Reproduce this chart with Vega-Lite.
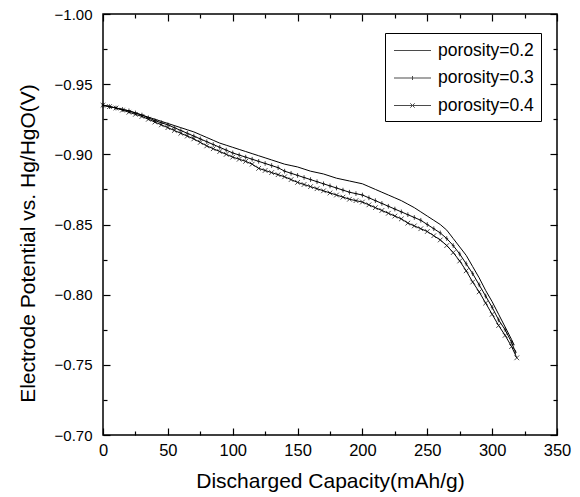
{
  "$schema": "https://vega.github.io/schema/vega-lite/v6.json",
  "width": 454,
  "height": 421,
  "autosize": {"type": "none"},
  "padding": {"left": 103, "top": 14, "right": 23, "bottom": 62},
  "background": "white",
  "config": {
    "view": {"stroke": "black", "strokeWidth": 1.5},
    "font": "Liberation Sans",
    "axis": {"zindex": 1, "domain": false, "grid": false, "ticks": true, "tickColor": "#000000", "tickOpacity": 1, "tickWidth": 1.2, "labelColor": "black", "titleColor": "black", "labelFont": "Liberation Sans", "titleFont": "Liberation Sans", "titleFontWeight": "normal"}
  },
  "datasets": {
    "curves": [
      {"c":0,"v":-0.935,"s":"0.2"},{"c":5,"v":-0.934,"s":"0.2"},{"c":10,"v":-0.933,"s":"0.2"},{"c":15,"v":-0.932,"s":"0.2"},{"c":20,"v":-0.931,"s":"0.2"},{"c":25,"v":-0.9295,"s":"0.2"},{"c":30,"v":-0.928,"s":"0.2"},{"c":35,"v":-0.9265,"s":"0.2"},{"c":40,"v":-0.925,"s":"0.2"},{"c":45,"v":-0.9235,"s":"0.2"},{"c":50,"v":-0.922,"s":"0.2"},{"c":55,"v":-0.9205,"s":"0.2"},{"c":60,"v":-0.919,"s":"0.2"},{"c":65,"v":-0.9175,"s":"0.2"},{"c":70,"v":-0.916,"s":"0.2"},{"c":75,"v":-0.914,"s":"0.2"},{"c":80,"v":-0.912,"s":"0.2"},{"c":85,"v":-0.91,"s":"0.2"},{"c":90,"v":-0.908,"s":"0.2"},{"c":95,"v":-0.9065,"s":"0.2"},{"c":100,"v":-0.905,"s":"0.2"},{"c":105,"v":-0.9035,"s":"0.2"},{"c":110,"v":-0.902,"s":"0.2"},{"c":115,"v":-0.9005,"s":"0.2"},{"c":120,"v":-0.899,"s":"0.2"},{"c":125,"v":-0.8975,"s":"0.2"},{"c":130,"v":-0.896,"s":"0.2"},{"c":135,"v":-0.8945,"s":"0.2"},{"c":140,"v":-0.893,"s":"0.2"},{"c":145,"v":-0.892,"s":"0.2"},{"c":150,"v":-0.891,"s":"0.2"},{"c":155,"v":-0.8895,"s":"0.2"},{"c":160,"v":-0.888,"s":"0.2"},{"c":165,"v":-0.887,"s":"0.2"},{"c":170,"v":-0.886,"s":"0.2"},{"c":175,"v":-0.8845,"s":"0.2"},{"c":180,"v":-0.883,"s":"0.2"},{"c":185,"v":-0.882,"s":"0.2"},{"c":190,"v":-0.881,"s":"0.2"},{"c":195,"v":-0.88,"s":"0.2"},{"c":200,"v":-0.879,"s":"0.2"},{"c":205,"v":-0.877,"s":"0.2"},{"c":210,"v":-0.875,"s":"0.2"},{"c":215,"v":-0.873,"s":"0.2"},{"c":220,"v":-0.871,"s":"0.2"},{"c":225,"v":-0.869,"s":"0.2"},{"c":230,"v":-0.867,"s":"0.2"},{"c":235,"v":-0.8645,"s":"0.2"},{"c":240,"v":-0.862,"s":"0.2"},{"c":245,"v":-0.859,"s":"0.2"},{"c":250,"v":-0.856,"s":"0.2"},{"c":255,"v":-0.853,"s":"0.2"},{"c":260,"v":-0.85,"s":"0.2"},{"c":265,"v":-0.846,"s":"0.2"},{"c":270,"v":-0.84,"s":"0.2"},{"c":275,"v":-0.834,"s":"0.2"},{"c":280,"v":-0.828,"s":"0.2"},{"c":285,"v":-0.82,"s":"0.2"},{"c":290,"v":-0.812,"s":"0.2"},{"c":295,"v":-0.803,"s":"0.2"},{"c":300,"v":-0.795,"s":"0.2"},{"c":305,"v":-0.786,"s":"0.2"},{"c":310,"v":-0.777,"s":"0.2"},{"c":315,"v":-0.768,"s":"0.2"},{"c":317,"v":-0.764,"s":"0.2"},
      {"c":0,"v":-0.935,"s":"0.3"},{"c":5,"v":-0.934,"s":"0.3"},{"c":10,"v":-0.933,"s":"0.3"},{"c":15,"v":-0.932,"s":"0.3"},{"c":20,"v":-0.931,"s":"0.3"},{"c":25,"v":-0.9295,"s":"0.3"},{"c":30,"v":-0.928,"s":"0.3"},{"c":35,"v":-0.926,"s":"0.3"},{"c":40,"v":-0.924,"s":"0.3"},{"c":45,"v":-0.9225,"s":"0.3"},{"c":50,"v":-0.921,"s":"0.3"},{"c":55,"v":-0.919,"s":"0.3"},{"c":60,"v":-0.917,"s":"0.3"},{"c":65,"v":-0.915,"s":"0.3"},{"c":70,"v":-0.913,"s":"0.3"},{"c":75,"v":-0.911,"s":"0.3"},{"c":80,"v":-0.909,"s":"0.3"},{"c":85,"v":-0.907,"s":"0.3"},{"c":90,"v":-0.905,"s":"0.3"},{"c":95,"v":-0.903,"s":"0.3"},{"c":100,"v":-0.901,"s":"0.3"},{"c":105,"v":-0.8995,"s":"0.3"},{"c":110,"v":-0.898,"s":"0.3"},{"c":115,"v":-0.8965,"s":"0.3"},{"c":120,"v":-0.895,"s":"0.3"},{"c":125,"v":-0.8935,"s":"0.3"},{"c":130,"v":-0.892,"s":"0.3"},{"c":135,"v":-0.8905,"s":"0.3"},{"c":140,"v":-0.888,"s":"0.3"},{"c":145,"v":-0.8865,"s":"0.3"},{"c":150,"v":-0.885,"s":"0.3"},{"c":155,"v":-0.8835,"s":"0.3"},{"c":160,"v":-0.882,"s":"0.3"},{"c":165,"v":-0.8805,"s":"0.3"},{"c":170,"v":-0.879,"s":"0.3"},{"c":175,"v":-0.8775,"s":"0.3"},{"c":180,"v":-0.876,"s":"0.3"},{"c":185,"v":-0.8745,"s":"0.3"},{"c":190,"v":-0.873,"s":"0.3"},{"c":195,"v":-0.872,"s":"0.3"},{"c":200,"v":-0.871,"s":"0.3"},{"c":205,"v":-0.869,"s":"0.3"},{"c":210,"v":-0.867,"s":"0.3"},{"c":215,"v":-0.865,"s":"0.3"},{"c":220,"v":-0.863,"s":"0.3"},{"c":225,"v":-0.861,"s":"0.3"},{"c":230,"v":-0.859,"s":"0.3"},{"c":235,"v":-0.857,"s":"0.3"},{"c":240,"v":-0.855,"s":"0.3"},{"c":245,"v":-0.853,"s":"0.3"},{"c":250,"v":-0.85,"s":"0.3"},{"c":255,"v":-0.847,"s":"0.3"},{"c":260,"v":-0.844,"s":"0.3"},{"c":265,"v":-0.84,"s":"0.3"},{"c":270,"v":-0.835,"s":"0.3"},{"c":275,"v":-0.829,"s":"0.3"},{"c":280,"v":-0.822,"s":"0.3"},{"c":285,"v":-0.815,"s":"0.3"},{"c":290,"v":-0.807,"s":"0.3"},{"c":295,"v":-0.799,"s":"0.3"},{"c":300,"v":-0.791,"s":"0.3"},{"c":305,"v":-0.782,"s":"0.3"},{"c":310,"v":-0.775,"s":"0.3"},{"c":315,"v":-0.766,"s":"0.3"},{"c":318,"v":-0.759,"s":"0.3"},
      {"c":0,"v":-0.935,"s":"0.4"},{"c":5,"v":-0.934,"s":"0.4"},{"c":10,"v":-0.933,"s":"0.4"},{"c":15,"v":-0.9315,"s":"0.4"},{"c":20,"v":-0.93,"s":"0.4"},{"c":25,"v":-0.9285,"s":"0.4"},{"c":30,"v":-0.927,"s":"0.4"},{"c":35,"v":-0.925,"s":"0.4"},{"c":40,"v":-0.923,"s":"0.4"},{"c":45,"v":-0.921,"s":"0.4"},{"c":50,"v":-0.919,"s":"0.4"},{"c":55,"v":-0.917,"s":"0.4"},{"c":60,"v":-0.915,"s":"0.4"},{"c":65,"v":-0.913,"s":"0.4"},{"c":70,"v":-0.911,"s":"0.4"},{"c":75,"v":-0.9085,"s":"0.4"},{"c":80,"v":-0.906,"s":"0.4"},{"c":85,"v":-0.904,"s":"0.4"},{"c":90,"v":-0.902,"s":"0.4"},{"c":95,"v":-0.9,"s":"0.4"},{"c":100,"v":-0.898,"s":"0.4"},{"c":105,"v":-0.8965,"s":"0.4"},{"c":110,"v":-0.895,"s":"0.4"},{"c":115,"v":-0.893,"s":"0.4"},{"c":120,"v":-0.89,"s":"0.4"},{"c":125,"v":-0.8885,"s":"0.4"},{"c":130,"v":-0.887,"s":"0.4"},{"c":135,"v":-0.8855,"s":"0.4"},{"c":140,"v":-0.884,"s":"0.4"},{"c":145,"v":-0.882,"s":"0.4"},{"c":150,"v":-0.88,"s":"0.4"},{"c":155,"v":-0.8785,"s":"0.4"},{"c":160,"v":-0.877,"s":"0.4"},{"c":165,"v":-0.8755,"s":"0.4"},{"c":170,"v":-0.874,"s":"0.4"},{"c":175,"v":-0.8725,"s":"0.4"},{"c":180,"v":-0.871,"s":"0.4"},{"c":185,"v":-0.8695,"s":"0.4"},{"c":190,"v":-0.868,"s":"0.4"},{"c":195,"v":-0.867,"s":"0.4"},{"c":200,"v":-0.866,"s":"0.4"},{"c":205,"v":-0.864,"s":"0.4"},{"c":210,"v":-0.862,"s":"0.4"},{"c":215,"v":-0.86,"s":"0.4"},{"c":220,"v":-0.858,"s":"0.4"},{"c":225,"v":-0.856,"s":"0.4"},{"c":230,"v":-0.854,"s":"0.4"},{"c":235,"v":-0.851,"s":"0.4"},{"c":240,"v":-0.849,"s":"0.4"},{"c":245,"v":-0.847,"s":"0.4"},{"c":250,"v":-0.845,"s":"0.4"},{"c":255,"v":-0.842,"s":"0.4"},{"c":260,"v":-0.839,"s":"0.4"},{"c":265,"v":-0.835,"s":"0.4"},{"c":270,"v":-0.83,"s":"0.4"},{"c":275,"v":-0.824,"s":"0.4"},{"c":280,"v":-0.817,"s":"0.4"},{"c":285,"v":-0.809,"s":"0.4"},{"c":290,"v":-0.802,"s":"0.4"},{"c":295,"v":-0.794,"s":"0.4"},{"c":300,"v":-0.786,"s":"0.4"},{"c":305,"v":-0.778,"s":"0.4"},{"c":310,"v":-0.771,"s":"0.4"},{"c":315,"v":-0.763,"s":"0.4"},{"c":319,"v":-0.755,"s":"0.4"}
    ]
  },
  "data": {"name": "curves"},
  "layer": [
    {
      "mark": {"type": "line", "color": "black", "strokeWidth": 1},
      "encoding": {
        "x": {"field": "c", "type": "quantitative", "scale": {"domain": [0, 350], "nice": false, "zero": false},
          "axis": {"orient": "bottom", "values": [0,50,100,150,200,250,300,350], "offset": -7, "tickSize": 7, "labelPadding": 7, "labelFontSize": 16.5, "labelFlush": false, "title": "Discharged Capacity(mAh/g)", "titleFontSize": 21, "titlePadding": 12}},
        "y": {"field": "v", "type": "quantitative", "scale": {"domain": [-1.0, -0.7], "reverse": true, "nice": false, "zero": false},
          "axis": {"orient": "left", "values": [-1.0,-0.95,-0.9,-0.85,-0.8,-0.75,-0.7], "format": ".2f", "offset": -7, "tickSize": 7, "labelPadding": 11, "labelFontSize": 15, "labelFlush": false, "title": "Electrode Potential vs. Hg/HgO(V)", "titleFontSize": 21, "titlePadding": 16, "titleY": 229}},
        "detail": {"field": "s", "type": "nominal"}
      }
    },
    {
      "transform": [{"filter": "datum.s == '0.3'"}],
      "mark": {"type": "point", "color": "black", "filled": false, "strokeWidth": 1, "size": 22, "shape": "M0,-1V1M-0.6,0H0.6"},
      "encoding": {
        "x": {"field": "c", "type": "quantitative",
          "axis": {"orient": "top", "values": [0,50,100,150,200,250,300,350], "offset": -7, "tickSize": 7, "labels": false, "title": null}},
        "y": {"field": "v", "type": "quantitative",
          "axis": {"orient": "right", "values": [-1.0,-0.95,-0.9,-0.85,-0.8,-0.75,-0.7], "offset": -7, "tickSize": 7, "labels": false, "title": null}}
      }
    },
    {
      "transform": [{"filter": "datum.s == '0.4'"}],
      "mark": {"type": "point", "color": "black", "filled": false, "strokeWidth": 1, "size": 22, "shape": "M-1,-1L1,1M-1,1L1,-1"},
      "encoding": {
        "x": {"field": "c", "type": "quantitative",
          "axis": {"orient": "bottom", "values": [25,75,125,175,225,275,325], "offset": -4, "tickSize": 4, "labels": false, "title": null}},
        "y": {"field": "v", "type": "quantitative",
          "axis": {"orient": "left", "values": [-0.975,-0.925,-0.875,-0.825,-0.775,-0.725], "offset": -4, "tickSize": 4, "labels": false, "title": null}}
      }
    },
    {
      "transform": [{"filter": "false"}],
      "mark": {"type": "point", "color": "black", "filled": false, "strokeWidth": 1},
      "encoding": {
        "x": {"field": "c", "type": "quantitative",
          "axis": {"orient": "top", "values": [25,75,125,175,225,275,325], "offset": -4, "tickSize": 4, "labels": false, "title": null}},
        "y": {"field": "v", "type": "quantitative",
          "axis": {"orient": "right", "values": [-0.975,-0.925,-0.875,-0.825,-0.775,-0.725], "offset": -4, "tickSize": 4, "labels": false, "title": null}},
        "shape": {"field": "s", "type": "nominal",
          "scale": {"domain": ["0.2", "0.3", "0.4"], "range": ["M-0.85,0H2.85", "M-0.85,0H2.85M1,-0.2V0.2", "M-0.85,0H2.85M0.78,-0.22L1.22,0.22M0.78,0.22L1.22,-0.22"]},
          "legend": {
            "orient": "none", "legendX": 282, "legendY": 19, "title": null,
            "strokeColor": "black", "fillColor": "white", "padding": 7,
            "symbolSize": 400, "symbolStrokeWidth": 1, "symbolStrokeColor": "black",
            "labelFontSize": 17.5, "labelFont": "Liberation Sans", "labelColor": "black", "labelOffset": 25,
            "rowPadding": 8.5,
            "labelExpr": "'porosity=' + datum.label"
          }}
      }
    }
  ]
}
